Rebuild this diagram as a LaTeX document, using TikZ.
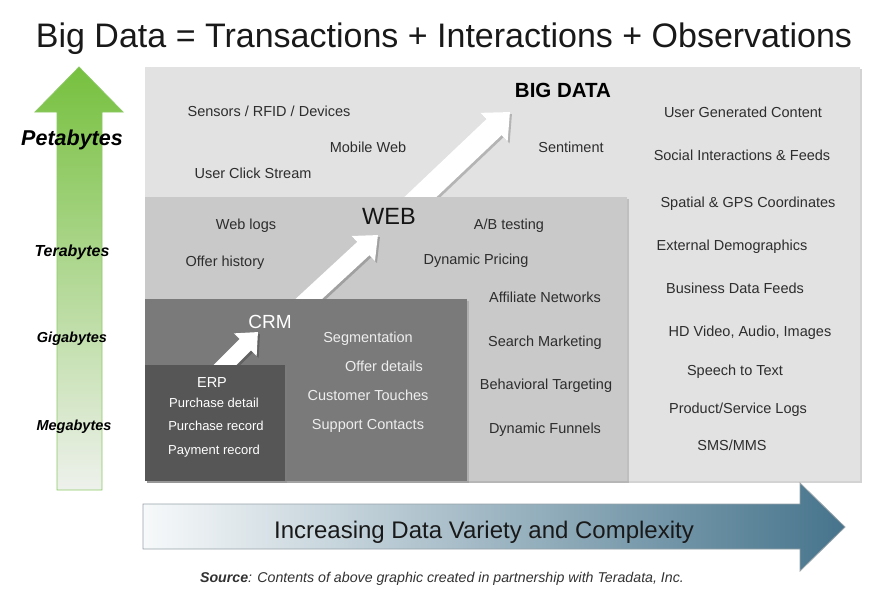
\documentclass[tikz,border=0pt]{standalone}
\usepackage{fontspec}
\setmainfont{Liberation Sans}
\usetikzlibrary{arrows.meta,calc,shadows}
\definecolor{bigc}{RGB}{226,226,226}
\definecolor{webc}{RGB}{201,201,201}
\definecolor{crmc}{RGB}{122,122,122}
\definecolor{erpc}{RGB}{86,86,86}
\definecolor{txt}{RGB}{45,45,45}
\definecolor{crmtxt}{RGB}{238,238,238}
\definecolor{grn}{RGB}{118,192,62}
\definecolor{grnpale}{RGB}{238,241,236}
\definecolor{grnline}{RGB}{140,200,100}
\definecolor{bluel}{RGB}{247,249,250}
\definecolor{blued}{RGB}{70,116,140}
\definecolor{arrline}{RGB}{150,162,168}
\begin{document}
\begin{tikzpicture}[x=1pt,y=-1pt,
  databox/.style={draw=none, anchor=north west, inner sep=0pt, outer sep=0pt,
    drop shadow={shadow xshift=2pt, shadow yshift=-2pt, opacity=0.35}},
  item/.style={anchor=base, inner sep=0pt, text=txt, font=\fontsize{14.5}{17}\selectfont},
  crmitem/.style={item, text=crmtxt},
  erpitem/.style={item, text=white, font=\fontsize{13}{15}\selectfont},
  sizelbl/.style={anchor=base, inner sep=0pt, text=black, font=\bfseries\itshape},
  fatshadow/.style={draw=black, opacity=0.2, line cap=butt},
  fatarrow/.style={draw=white, line cap=butt}]
\useasboundingbox (0,0) rectangle (882,600);

% title
\node[anchor=base, inner sep=0pt, text={rgb,255:red,25;green,25;blue,25}, font=\fontsize{34}{38}\selectfont] (title) at (444,47) {Big Data = Transactions + Interactions + Observations};

% left size arrow
\shade[top color=grn, bottom color=grnpale, draw=grnline, line width=0.8pt]
  (57,490) -- (57,112) -- (35,112) -- (79,67) -- (123,112) -- (102,112) -- (102,490) -- cycle;
\node[sizelbl, font=\fontsize{21.5}{24}\selectfont\bfseries\itshape] (peta) at (72,145) {Petabytes};
\node[sizelbl, font=\fontsize{16}{18}\selectfont\bfseries\itshape] (tera) at (72,256) {Terabytes};
\node[sizelbl, font=\fontsize{14.5}{16}\selectfont\bfseries\itshape] (giga) at (72,342) {Gigabytes};
\node[sizelbl, font=\fontsize{14.5}{16}\selectfont\bfseries\itshape] (mega) at (74,430) {Megabytes};

% boxes and arrows (layered)
\node[databox, fill=bigc, minimum width=715pt, minimum height=414pt] (big) at (145,67) {};
\coordinate (a3s) at (412,205);
\coordinate (a3e) at (510,112);
\draw[fatshadow, line width=22pt, -{Triangle[width=38pt,length=22pt]}] ($(a3s)+(2,2)$) -- ($(a3e)+(2,2)$);
\draw[fatarrow, line width=22pt, -{Triangle[width=38pt,length=22pt]}] (a3s) -- (a3e);

\node[databox, fill=webc, minimum width=482pt, minimum height=284pt] (web) at (145,197) {};
\coordinate (a2s) at (299,308);
\coordinate (a2e) at (378,235);
\draw[fatshadow, line width=18pt, -{Triangle[width=33pt,length=20pt]}] ($(a2s)+(2,2)$) -- ($(a2e)+(2,2)$);
\draw[fatarrow, line width=18pt, -{Triangle[width=33pt,length=20pt]}] (a2s) -- (a2e);

\node[databox, fill=crmc, minimum width=322pt, minimum height=182pt] (crm) at (145,299) {};
\coordinate (a1s) at (217,373);
\coordinate (a1e) at (258,332);
\draw[fatshadow, line width=16pt, -{Triangle[width=31pt,length=18pt]}] ($(a1s)+(2,2)$) -- ($(a1e)+(2,2)$);
\draw[fatarrow, line width=16pt, -{Triangle[width=31pt,length=18pt]}] (a1s) -- (a1e);

\node[databox, fill=erpc, minimum width=140pt, minimum height=116pt] (erp) at (145,365) {};

% BIG DATA texts
\node[item, text=black, font=\fontsize{20.5}{24}\selectfont\bfseries] (bigt) at (563,97) {BIG DATA};
\node[item] (b1) at (269,116) {Sensors / RFID / Devices};
\node[item] (b2) at (368,152) {Mobile Web};
\node[item] (b3) at (253,178) {User Click Stream};
\node[item] (b4) at (571,152) {Sentiment};
\node[item] (r1) at (743,117) {User Generated Content};
\node[item] (r2) at (742,160) {Social Interactions \& Feeds};
\node[item] (r3) at (748,207) {Spatial \& GPS Coordinates};
\node[item] (r4) at (732,250) {External Demographics};
\node[item] (r5) at (735,293) {Business Data Feeds};
\node[item] (r6) at (750,336) {HD Video, Audio, Images};
\node[item] (r7) at (735,375) {Speech to Text};
\node[item] (r8) at (738,413) {Product/Service Logs};
\node[item] (r9) at (732,450) {SMS/MMS};

% WEB texts
\node[item, text={rgb,255:red,20;green,20;blue,20}, font=\fontsize{23.5}{27}\selectfont] (webt) at (389,224) {WEB};
\node[item] (w1) at (246,229) {Web logs};
\node[item] (w2) at (225,266) {Offer history};
\node[item] (w3) at (509,229) {A/B testing};
\node[item] (w4) at (476,264) {Dynamic Pricing};
\node[item] (w5) at (545,302) {Affiliate Networks};
\node[item] (w6) at (545,346) {Search Marketing};
\node[item] (w7) at (546,389) {Behavioral Targeting};
\node[item] (w8) at (545,433) {Dynamic Funnels};

% CRM texts
\node[item, text=white, font=\fontsize{19}{22}\selectfont] (crmt) at (270,328) {CRM};
\node[crmitem] (c1) at (368,342) {Segmentation};
\node[crmitem] (c2) at (384,371) {Offer details};
\node[crmitem] (c3) at (368,400) {Customer Touches};
\node[crmitem] (c4) at (368,429) {Support Contacts};

% ERP texts
\node[erpitem, font=\fontsize{14.5}{17}\selectfont] (erpt) at (212,387) {ERP};
\node[erpitem] (e1) at (214,407) {Purchase detail};
\node[erpitem] (e2) at (216,430) {Purchase record};
\node[erpitem] (e3) at (214,454) {Payment record};

% bottom arrow
\shade[left color=bluel, right color=blued, draw=arrline, line width=0.8pt]
  (143,504) -- (800,504) -- (800,483) -- (845,527) -- (800,571) -- (800,549) -- (143,549) -- cycle;
\node[anchor=base, inner sep=0pt, text={rgb,255:red,25;green,25;blue,25}, font=\fontsize{24}{28}\selectfont] (variety) at (484,538) {Increasing Data Variety and Complexity};

% source
\node[anchor=base, inner sep=0pt, text={rgb,255:red,50;green,50;blue,50}, font=\fontsize{14.2}{16}\selectfont\itshape] (source) at (442,582) {\textbf{Source}: Contents of above graphic created in partnership with Teradata, Inc.};
\end{tikzpicture}
\end{document}
